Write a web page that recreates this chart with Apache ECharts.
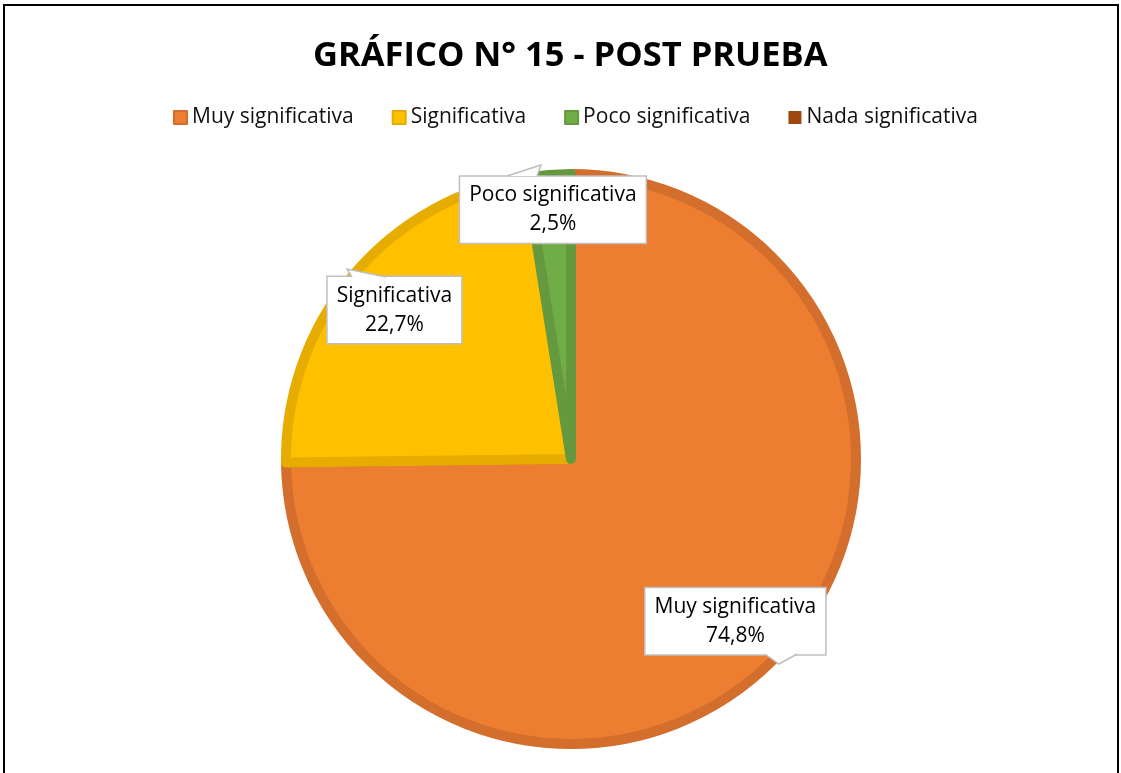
<!DOCTYPE html>
<html>
<head>
<meta charset="utf-8">
<script src="https://cdn.jsdelivr.net/npm/echarts@6/dist/echarts.min.js"></script>
<style>
  html, body { margin: 0; padding: 0; background: #fff; }
  #chart { width: 1121px; height: 773px; }
  #frame { position: absolute; left: 3px; top: 4px; width: 1112px; height: 800px; border: 2px solid #000; pointer-events: none; }
</style>
</head>
<body>
<div id="chart"></div>
<div id="frame"></div>
<script>
const categories = ["Muy significativa", "Significativa", "Poco significativa", "Nada significativa"];
const values = [74.8, 22.7, 2.5, 0];

const fills = ["#ED7D31", "#FFC000", "#70AD47", "#9E480E"];
const edges = ["#D46E2C", "#E6AD00", "#64993F", "#8C3F0C"];
// small nudges so the callouts sit where the original put them
const labelNudge = [[0, 0], [0, 0], [0, -19], [0, 0]];
// callout pointer wedges: [base start, base end, tip]
const calloutTips = [
  [[765, 654], [797, 654], [779, 664]],
  [[352, 277], [386, 277], [347, 269]],
  [[507, 176], [537, 176], [541, 165]]
];

const chart = echarts.init(document.getElementById("chart"));

const fmt = (v) => v.toFixed(1).replace(".", ",") + "%";
const FONT = "Open Sans";

const option = {
  animation: false,
  title: {
    text: "GRÁFICO N° 15 - POST PRUEBA",
    left: 308,
    top: 34,
    textStyle: { fontFamily: FONT, fontWeight: "bold", fontSize: 34.5, color: "#000" }
  },
  legend: {
    data: categories,
    top: 102,
    left: 168,
    icon: "rect",
    itemWidth: 13,
    itemHeight: 13,
    itemGap: 38,
    textStyle: { fontFamily: FONT, fontSize: 21, color: "#111" }
  },
  graphic: calloutTips.flatMap((t) => [
    {
      type: "polygon",
      z: 100,
      shape: { points: t },
      style: { fill: "#fff", stroke: null }
    },
    {
      type: "polyline",
      z: 101,
      shape: { points: [t[0], t[2], t[1]] },
      style: { stroke: "#BFBFBF", lineWidth: 1.5, fill: null }
    }
  ]),
  series: [
    {
      type: "pie",
      center: [571, 459],
      radius: [0, 285],
      startAngle: 90,
      clockwise: true,
      label: { show: false },
      labelLine: { show: false },
      data: categories.map((c, i) => ({
        name: c,
        value: values[i],
        itemStyle: { color: fills[i], borderColor: edges[i], borderWidth: values[i] > 0 ? 10 : 0 }
      }))
    },
    {
      type: "pie",
      silent: true,
      center: [571, 459],
      radius: [171, 285],
      startAngle: 90,
      clockwise: true,
      itemStyle: { color: "transparent", borderWidth: 0 },
      labelLine: { show: false },
      legendHoverLink: false,
      data: categories.map((c, i) => ({
        name: c,
        value: values[i],
        label: {
          show: values[i] > 0,
          position: "inside",
          offset: labelNudge[i],
          formatter: (p) => p.name + "\n" + fmt(p.value),
          fontFamily: FONT,
          fontSize: 21,
          lineHeight: 29,
          color: "#000",
          backgroundColor: "#fff",
          borderColor: "#BFBFBF",
          borderWidth: 1.5,
          padding: [4, 9, 4, 9],
          align: "center"
        }
      }))
    }
  ]
};

chart.setOption(option);
</script>
</body>
</html>
